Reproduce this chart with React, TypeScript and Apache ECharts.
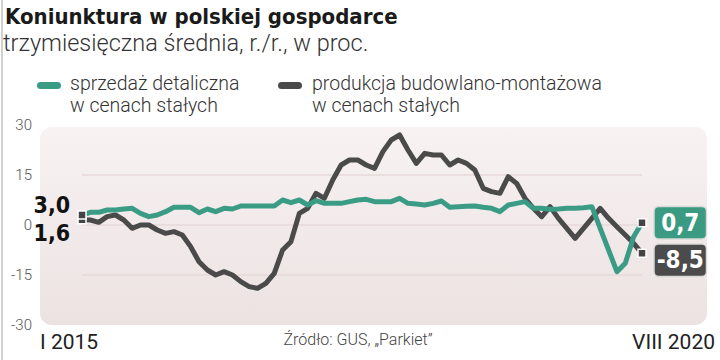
import React, { useEffect, useRef } from "react";
import * as echarts from "echarts";

const romans = ["I", "II", "III", "IV", "V", "VI", "VII", "VIII", "IX", "X", "XI", "XII"];
const categories: string[] = [];
for (let y = 2015; y <= 2020; y++) {
  for (let m = 0; m < 12; m++) {
    if (y === 2020 && m > 7) break;
    categories.push(`${romans[m]} ${y}`);
  }
}

const retailSales = [
  3.0, 3.8, 3.8, 4.5, 4.5, 4.8, 5.0, 3.5, 2.5, 3.0,
  4.0, 5.3, 5.3, 5.3, 3.7, 4.8, 4.0, 5.0, 4.8, 5.7,
  5.7, 5.7, 5.7, 5.7, 7.5, 6.7, 7.5, 6.0, 7.3, 6.5,
  6.5, 6.5, 7.0, 7.5, 7.7, 7.0, 7.0, 7.0, 8.0, 6.5,
  6.3, 6.0, 6.5, 7.2, 5.3, 5.5, 5.6, 5.7, 5.3, 5.0,
  4.0, 6.0, 6.5, 7.0, 5.0, 5.0, 4.7, 4.8, 5.0, 5.0,
  5.2, 5.5, -1.0, -7.5, -14.0, -11.5, -3.5, 0.7,
];

const construction = [
  1.6, 1.5, 0.8, 2.5, 3.0, 1.5, -1.0, 0.0, 0.0, -1.5,
  -2.5, -2.0, -3.0, -6.5, -11.0, -13.5, -15.0, -14.0, -15.0, -17.0,
  -18.5, -19.0, -17.5, -14.5, -7.5, -5.0, 3.5, 5.0, 9.5, 8.0,
  13.5, 18.0, 19.5, 19.5, 18.0, 17.0, 22.0, 25.5, 27.0, 22.5,
  18.5, 21.5, 21.0, 21.0, 18.0, 19.5, 18.5, 16.5, 11.0, 10.0,
  9.5, 14.5, 12.5, 8.0, 5.0, 2.5, 5.5, 2.0, -1.0, -4.0,
  -1.0, 2.0, 5.0, 2.0, -0.5, -3.0, -5.5, -8.5,
];

const yTicks = [-30, -15, 0, 15, 30];
const xEndLabels = ["I 2015", "VIII 2020"];
const seriesNames = ["sprzedaż detaliczna\nw cenach stałych", "produkcja budowlano-montażowa\nw cenach stałych"];
const titleText = "Koniunktura w polskiej gospodarce";
const subtitleText = "trzymiesięczna średnia, r./r., w proc.";
const sourceText = "Źródło: GUS, „Parkiet”";

const GREEN = "#3b9c85";
const GRAY = "#4a4a4a";
const NARROW = "'Liberation Sans Narrow', 'DejaVu Sans Condensed', Roboto, sans-serif";
const LIGHT = "Roboto, 'Open Sans', sans-serif";

const fmt = (v: number) => v.toFixed(1).replace(".", ",");

export default function App() {
  const ref = useRef<HTMLDivElement>(null);
  useEffect(() => {
    if (!ref.current) return;
    const chart = echarts.init(ref.current, undefined, { renderer: "svg" });
    const last = categories.length - 1;
    const startLabel = (dy: number) => ({
      show: true,
      position: "left",
      distance: 7,
      offset: [0, dy],
      formatter: (p: any) => fmt(p.value[1]),
      fontFamily: NARROW,
      fontWeight: "bold",
      fontSize: 23,
      color: "#111",
    });
    const endLabel = (bg: string, dy: number) => ({
      show: true,
      position: "right",
      distance: 8,
      offset: [0, dy],
      formatter: (p: any) => `{v|${fmt(p.value[1])}}`,
      backgroundColor: bg,
      borderColor: "#d9d9d9",
      borderWidth: 1.5,
      borderRadius: 4,
      padding: [3, 0, 3, 0],
      rich: {
        v: {
          width: 51,
          align: "center",
          fontFamily: NARROW,
          fontWeight: "bold",
          fontSize: 24,
          lineHeight: 25,
          color: "#fff",
        },
      },
    });
    chart.setOption({
      animation: false,
      backgroundColor: "#fff",
      grid: { left: 82, right: 78, top: 125, bottom: 35 },
      xAxis: {
        type: "category",
        data: categories,
        boundaryGap: false,
        axisLine: { show: false },
        axisTick: { show: false },
        axisLabel: { show: false },
        splitLine: { show: false },
      },
      yAxis: {
        type: "value",
        min: yTicks[0],
        max: yTicks[yTicks.length - 1],
        interval: 15,
        axisLine: { show: false },
        axisTick: { show: false },
        axisLabel: {
          margin: 50,
          color: "#555",
          fontSize: 15,
          fontFamily: LIGHT,
          fontWeight: 300,
        },
        splitLine: {
          show: true,
          lineStyle: {
            color: ["rgba(0,0,0,0)", "#e6d8d8", "#e6d8d8", "#e6d8d8", "rgba(0,0,0,0)"],
            width: 1.5,
          },
        },
      },
      graphic: [
        { type: "rect", left: 1, top: 0, shape: { width: 2, height: 360 }, style: { fill: "#d0d0d0" }, z: -20 },
        {
          type: "rect",
          z: -10,
          shape: { x: 40, y: 127, width: 667, height: 198, r: 12 },
          style: {
            fill: new echarts.graphic.LinearGradient(0, 0, 0, 1, [
              { offset: 0, color: "#f8f2f2" },
              { offset: 1, color: "#ece2e2" },
            ]),
          },
          silent: true,
        },
        {
          type: "text",
          x: 5,
          y: 5,
          style: { text: titleText, font: `bold 22px ${NARROW}`, fill: "#1a1a1a" },
        },
        {
          type: "text",
          x: 3,
          y: 31,
          style: { text: subtitleText, font: `300 23.5px ${LIGHT}`, fill: "#333" },
        },
        { type: "rect", shape: { x: 37, y: 82, width: 24, height: 7, r: 3.5 }, style: { fill: GREEN } },
        {
          type: "text",
          x: 70,
          y: 72,
          style: { text: seriesNames[0], font: `300 19.5px ${LIGHT}`, fill: "#333", lineHeight: 22 },
        },
        { type: "rect", shape: { x: 278, y: 82, width: 24, height: 7, r: 3.5 }, style: { fill: GRAY } },
        {
          type: "text",
          x: 312,
          y: 72,
          style: { text: seriesNames[1], font: `300 19.5px ${LIGHT}`, fill: "#333", lineHeight: 22 },
        },
        {
          type: "text",
          x: 40,
          y: 331,
          style: { text: xEndLabels[0], font: `400 21px ${LIGHT}`, fill: "#222" },
        },
        {
          type: "text",
          x: 715,
          y: 331,
          style: { text: xEndLabels[1], font: `400 21px ${LIGHT}`, fill: "#222", textAlign: "right" },
        },
        {
          type: "text",
          x: 358,
          y: 331,
          style: { text: sourceText, font: `300 16px ${LIGHT}`, fill: "#444", textAlign: "center" },
        },
      ],
      series: [
        {
          name: seriesNames[1],
          type: "line",
          data: construction,
          symbol: "none",
          lineStyle: { color: GRAY, width: 5, join: "round" },
          z: 2,
        },
        {
          name: seriesNames[0],
          type: "line",
          data: retailSales,
          symbol: "none",
          lineStyle: { color: GREEN, width: 5, join: "round" },
          z: 3,
        },
        {
          type: "scatter",
          z: 5,
          symbol: "rect",
          symbolSize: 8,
          itemStyle: { color: "#444", borderColor: "#fff", borderWidth: 1.5, opacity: 1 },
          data: [
            { value: [categories[0], construction[0]], label: startLabel(13) },
            { value: [categories[last], construction[last]], label: endLabel("#4b4b4b", 7) },
            { value: [categories[0], retailSales[0]], label: startLabel(-10) },
            { value: [categories[last], retailSales[last]], label: endLabel("#3a9a82", 0) },
          ],
        },
      ],
    });
    return () => chart.dispose();
  }, []);
  return <div ref={ref} style={{ position: "fixed", left: 0, top: 0, width: 720, height: 360 }} />;
}
